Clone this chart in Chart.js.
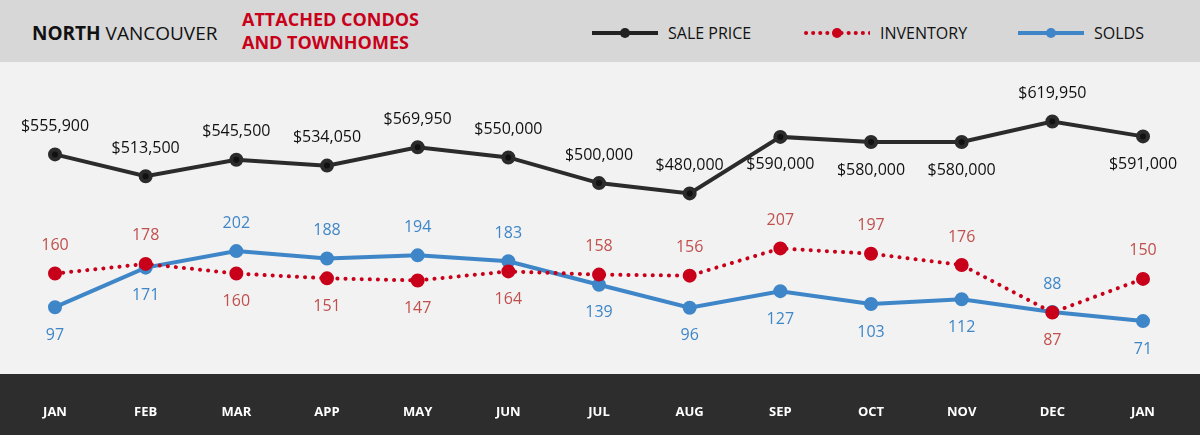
<!DOCTYPE html>
<html><head><meta charset="utf-8">
<script src="https://cdn.jsdelivr.net/npm/chart.js@4"></script>
<style>
body{margin:0;width:1200px;height:435px;overflow:hidden;font-family:"Open Sans",sans-serif;background:#f2f2f2;position:relative}
#hdr{position:absolute;left:0;top:0;width:1200px;height:62px;background:#d7d7d7}
#t1{position:absolute;left:32px;top:20px;font-size:19px;color:#111}
#t2{position:absolute;left:242px;top:8px;font-size:18px;font-weight:bold;color:#c8001a;line-height:23px}
.lg{position:absolute;top:22px;font-size:16px;color:#111;display:flex;align-items:center}
.lg svg{margin-right:10px}
#band{position:absolute;left:0;top:374px;width:1200px;height:61px;background:#2d2d2d}
#wrap{position:absolute;left:0;top:62px;width:1200px;height:373px}
</style></head><body>
<div id="hdr">
<div id="t1"><b>NORTH</b> VANCOUVER</div>
<div id="t2">ATTACHED CONDOS<br>AND TOWNHOMES</div>
<div class="lg" style="left:592px"><svg width="66" height="12"><line x1="0" y1="6" x2="66" y2="6" stroke="#222" stroke-width="4"/><circle cx="33" cy="6" r="5" fill="#222"/></svg>SALE PRICE</div>
<div class="lg" style="left:804px"><svg width="66" height="12"><line x1="2" y1="6" x2="66" y2="6" stroke="#c8001a" stroke-width="4" stroke-dasharray="0.1 7" stroke-linecap="round"/><circle cx="33" cy="6" r="5" fill="#c8001a"/></svg>INVENTORY</div>
<div class="lg" style="left:1018px"><svg width="66" height="12"><line x1="0" y1="6" x2="66" y2="6" stroke="#3e86c8" stroke-width="4"/><circle cx="33" cy="6" r="5" fill="#3e86c8"/></svg>SOLDS</div>
</div>
<div id="band"></div>
<div id="wrap"><canvas id="c"></canvas></div>
<script>
const months=["JAN","FEB","MAR","APP","MAY","JUN","JUL","AUG","SEP","OCT","NOV","DEC","JAN"];
const salePrice=[555900,513500,545500,534050,569950,550000,500000,480000,590000,580000,580000,619950,591000];
const inventory=[160,178,160,151,147,164,158,156,207,197,176,87,150];
const solds=[97,171,202,188,194,183,139,96,127,103,112,88,71];
// label placement: 1 above, -1 below
const priceLabelPos=[1,1,1,1,1,1,1,1,-1,-1,-1,1,-1];
const invLabelPos=[1,1,-1,-1,-1,-1,1,1,1,1,1,-1,1];
const soldLabelPos=[-1,-1,1,1,1,1,-1,-1,-1,-1,-1,1,-1];

const labelPlugin={id:'lbl',afterDatasetsDraw(chart){
  const ctx=chart.ctx;
  const cfg=[[priceLabelPos,'#111',v=>'$'+v.toLocaleString('en-US')],[invLabelPos,'#c0504d',v=>v],[soldLabelPos,'#3e86c8',v=>v]];
  chart.data.datasets.forEach((ds,i)=>{
    const meta=chart.getDatasetMeta(i);
    ctx.save();ctx.font='16px "Open Sans"';ctx.fillStyle=cfg[i][1];ctx.textAlign='center';ctx.textBaseline='middle';
    meta.data.forEach((p,j)=>{ctx.fillText(cfg[i][2](ds.data[j]),p.x,p.y-cfg[i][0][j]*28);});
    ctx.restore();
  });
}};

new Chart(document.getElementById('c'),{
  type:'line',
  data:{labels:months,datasets:[
    {data:salePrice,yAxisID:'yp',borderColor:'#2b2b2b',backgroundColor:'#111',borderWidth:4,pointRadius:5,pointBackgroundColor:'#111',tension:0},
    {data:inventory,yAxisID:'yc',borderColor:'#c8001a',backgroundColor:'#c8001a',borderWidth:4,borderDash:[0.1,8],borderCapStyle:'round',pointRadius:5,tension:0},
    {data:solds,yAxisID:'yc',borderColor:'#3e86c8',backgroundColor:'#3e86c8',borderWidth:4,pointRadius:5,tension:0}
  ]},
  options:{responsive:true,maintainAspectRatio:false,animation:false,
    layout:{padding:{left:55,right:57,top:0,bottom:0}},
    plugins:{legend:{display:false},tooltip:{enabled:false}},
    scales:{
      x:{offset:false,grid:{display:false},border:{display:false},
         ticks:{color:'#fff',font:{family:'"Open Sans"',size:13,weight:'bold'},padding:22,maxRotation:0,autoSkip:false},
         afterFit(s){s.height=61;}},
      yp:{display:false,min:128300,max:718300},
      yc:{display:false,min:-28,max:539}
    }},
  plugins:[labelPlugin]
});
</script>
</body></html>
